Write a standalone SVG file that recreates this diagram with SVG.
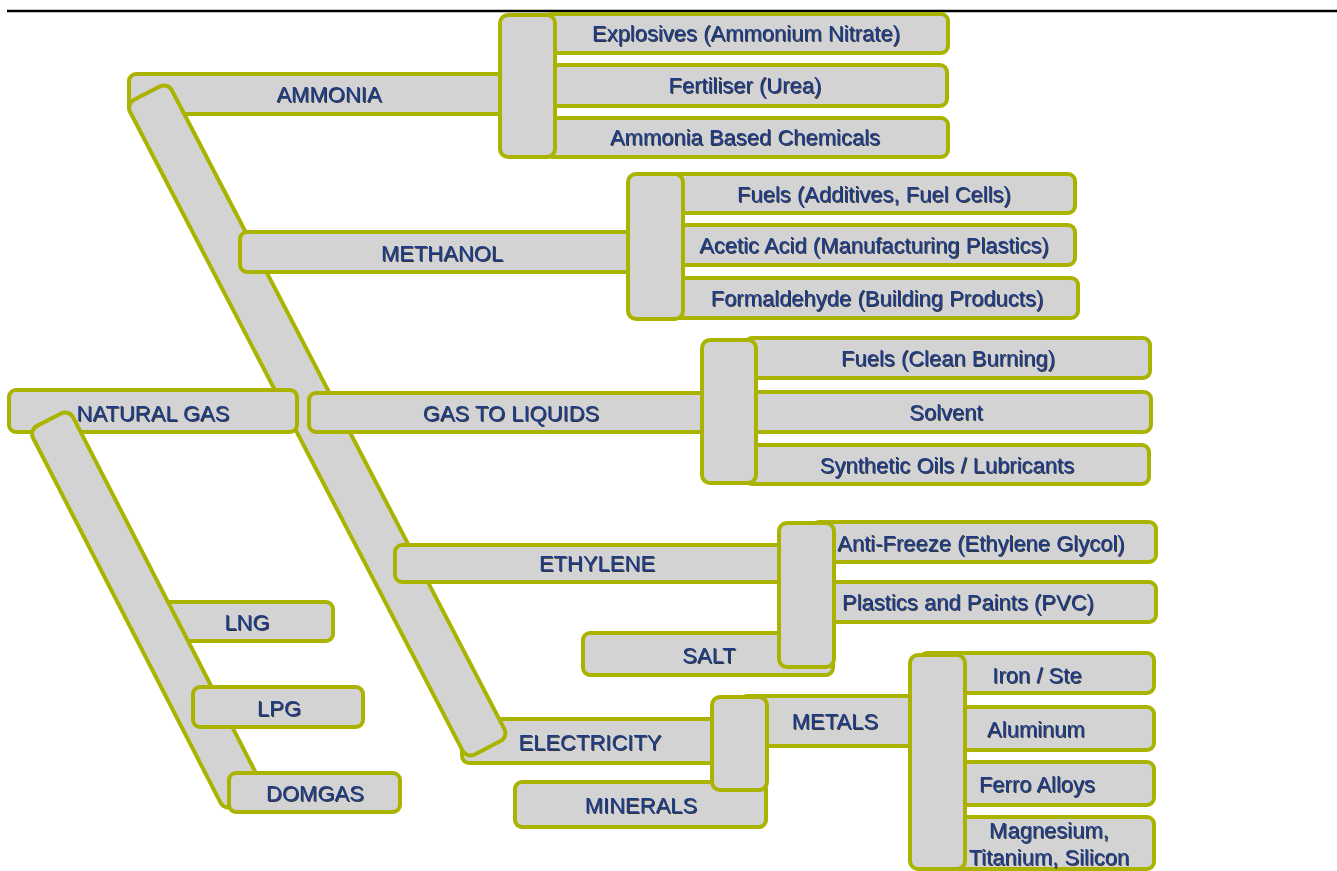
<svg xmlns="http://www.w3.org/2000/svg" width="1337" height="871" viewBox="0 0 1337 871">
<defs>
<filter id="sh" x="-5%" y="-20%" width="110%" height="140%">
<feDropShadow dx="1" dy="1" stdDeviation="0.35" flood-color="#000" flood-opacity="0.75"/>
</filter>
<style>
.b{fill:#D3D3D3;stroke:#AAB400;stroke-width:4}
.t{font-family:"Liberation Sans",Arial,sans-serif;font-size:22px;fill:#1F3B85;text-anchor:middle;filter:url(#sh)}
</style>
</defs>
<rect width="1337" height="871" fill="#fff"/>
<line x1="7" y1="11" x2="1337" y2="11" stroke="#000" stroke-width="2.5"/>

<g id="node-ammonia"><rect class="b" x="129" y="74" width="380" height="40" rx="7"/><text class="t" x="329" y="102">AMMONIA</text></g>
<g id="node-electricity"><rect class="b" x="462" y="719" width="260" height="44" rx="7"/><text class="t" x="590" y="750">ELECTRICITY</text></g>

<g id="connectors">
<g id="trunk-main"><rect class="b" transform="translate(126,104) rotate(62.5)" x="0" y="-47" width="738" height="47" rx="9"/></g>
</g>

<g id="node-methanol"><rect class="b" x="240" y="232" width="398" height="40" rx="7"/><text class="t" x="442" y="261">METHANOL</text></g>
<g id="node-gtl"><rect class="b" x="309" y="393" width="403" height="39" rx="7"/><text class="t" x="511" y="421">GAS TO LIQUIDS</text></g>
<g id="node-ethylene"><rect class="b" x="395" y="545" width="394" height="37" rx="7"/><text class="t" x="597" y="571">ETHYLENE</text></g>
<g id="node-lng"><rect class="b" x="150" y="602" width="183" height="39" rx="7"/><text class="t" x="247" y="630">LNG</text></g>
<g id="node-natural-gas"><rect class="b" x="9" y="390" width="288" height="42" rx="7"/><text class="t" x="153" y="421">NATURAL GAS</text></g>

<g id="trunk-natural-gas"><rect class="b" transform="translate(29,430) rotate(62.8)" x="0" y="-45" width="428" height="45" rx="9"/></g>

<g id="node-lpg"><rect class="b" x="193" y="687" width="170" height="40" rx="7"/><text class="t" x="279" y="716">LPG</text></g>
<g id="node-domgas"><rect class="b" x="229" y="773" width="171" height="39" rx="7"/><text class="t" x="315" y="801">DOMGAS</text></g>

<g id="node-explosives"><rect class="b" x="545" y="14" width="403" height="39" rx="7"/><text class="t" x="746" y="41">Explosives (Ammonium Nitrate)</text></g>
<g id="node-fertiliser"><rect class="b" x="545" y="65" width="402" height="41" rx="7"/><text class="t" x="745" y="93">Fertiliser (Urea)</text></g>
<g id="node-ammonia-chem"><rect class="b" x="545" y="118" width="403" height="39" rx="7"/><text class="t" x="745" y="145">Ammonia Based Chemicals</text></g>

<g id="node-fuels-additives"><rect class="b" x="672" y="174" width="403" height="39" rx="7"/><text class="t" x="874" y="202">Fuels (Additives, Fuel Cells)</text></g>
<g id="node-acetic"><rect class="b" x="672" y="225" width="403" height="40" rx="7"/><text class="t" x="874" y="253">Acetic Acid (Manufacturing Plastics)</text></g>
<g id="node-formaldehyde"><rect class="b" x="672" y="278" width="406" height="40" rx="7"/><text class="t" x="877" y="306">Formaldehyde (Building Products)</text></g>

<g id="node-fuels-clean"><rect class="b" x="745" y="338" width="405" height="40" rx="7"/><text class="t" x="948" y="366">Fuels (Clean Burning)</text></g>
<g id="node-solvent"><rect class="b" x="745" y="392" width="406" height="40" rx="7"/><text class="t" x="946" y="420">Solvent</text></g>
<g id="node-synthetic"><rect class="b" x="745" y="445" width="404" height="39" rx="7"/><text class="t" x="947" y="473">Synthetic Oils / Lubricants</text></g>

<g id="node-antifreeze"><rect class="b" x="812" y="522" width="344" height="40" rx="7"/><text class="t" x="981" y="551">Anti-Freeze (Ethylene Glycol)</text></g>
<g id="node-plastics"><rect class="b" x="812" y="582" width="344" height="40" rx="7"/><text class="t" x="968" y="610">Plastics and Paints (PVC)</text></g>
<g id="node-salt"><rect class="b" x="583" y="633" width="250" height="42" rx="7"/><text class="t" x="709" y="663">SALT</text></g>

<g id="node-metals"><rect class="b" x="740" y="696" width="180" height="50" rx="7"/><text class="t" x="835" y="729">METALS</text></g>
<g id="node-minerals"><rect class="b" x="515" y="782" width="251" height="45" rx="7"/><text class="t" x="641" y="813">MINERALS</text></g>

<g id="node-iron"><rect class="b" x="920" y="653" width="234" height="40" rx="7"/><text class="t" x="1037" y="683">Iron / Ste</text></g>
<g id="node-aluminum"><rect class="b" x="920" y="707" width="234" height="43" rx="7"/><text class="t" x="1036" y="737">Aluminum</text></g>
<g id="node-ferro"><rect class="b" x="920" y="762" width="234" height="43" rx="7"/><text class="t" x="1037" y="792">Ferro Alloys</text></g>
<g id="node-magnesium"><rect class="b" x="920" y="817" width="234" height="52" rx="7"/><text class="t" x="1049" y="838">Magnesium,</text><text class="t" x="1049" y="865">Titanium, Silicon</text></g>

<g id="bracket-ammonia"><rect class="b" x="500" y="15" width="55" height="142" rx="8"/></g>
<g id="bracket-methanol"><rect class="b" x="628" y="174" width="55" height="145" rx="8"/></g>
<g id="bracket-gtl"><rect class="b" x="702" y="340" width="54" height="143" rx="8"/></g>
<g id="bracket-ethylene"><rect class="b" x="779" y="523" width="55" height="144" rx="8"/></g>
<g id="bracket-electricity"><rect class="b" x="712" y="697" width="55" height="93" rx="8"/></g>
<g id="bracket-metals"><rect class="b" x="910" y="655" width="55" height="214" rx="8"/></g>
</svg>
